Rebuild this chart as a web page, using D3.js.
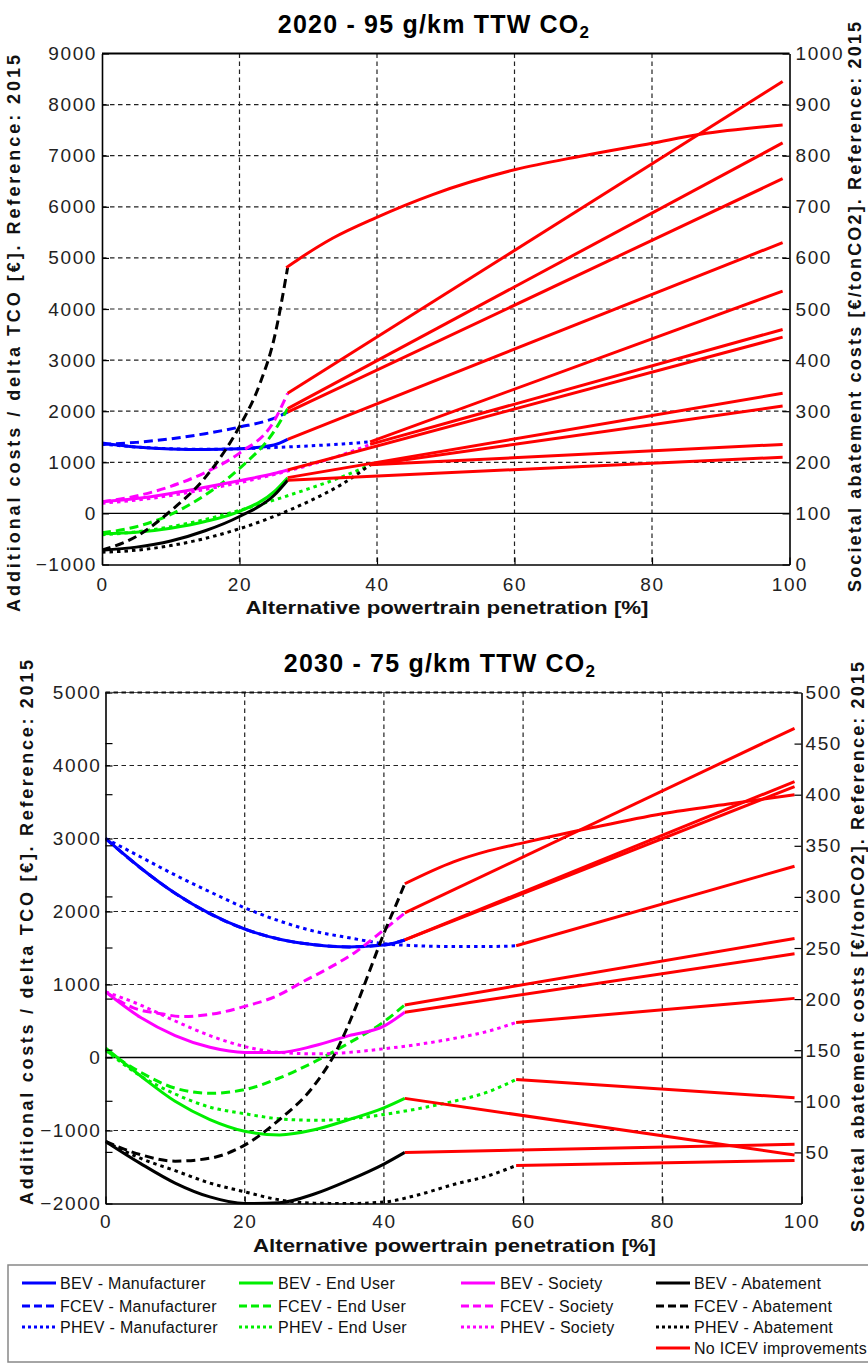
<!DOCTYPE html>
<html><head><meta charset="utf-8">
<script src="https://cdn.jsdelivr.net/npm/d3@7/dist/d3.min.js"></script>
<style>
body{margin:0;background:#fff;}
svg text{font-family:Arial,"Liberation Sans",sans-serif;}
</style></head><body>
<svg id="c" width="868" height="1364"></svg>
<script>
// ---------------- DATA ----------------
const xTicks = [0, 20, 40, 60, 80, 100];
const xGrid = [20, 40, 60, 80];

// Chart A: 2020
const titleA = "2020 - 95 g/km TTW CO";
const leftTicksA = [-1000, 0, 1000, 2000, 3000, 4000, 5000, 6000, 7000, 8000, 9000];
const rightTicksA = [0, 100, 200, 300, 400, 500, 600, 700, 800, 900, 1000];

const A_bevMfr  = [[0,1380],[5,1300],[10,1260],[15,1250],[20,1265],[25,1340],[27,1450]];
const A_fcevMfr = [[0,1350],[5,1390],[10,1460],[15,1560],[20,1690],[25,1860],[27,1980]];
const A_phevMfr = [[0,1360],[5,1300],[10,1265],[15,1255],[20,1265],[25,1290],[30,1320],[35,1360],[39,1400]];
const A_bevEU   = [[0,-400],[5,-370],[10,-290],[15,-160],[20,40],[25,420],[27,700]];
const A_fcevEU  = [[0,-380],[5,-260],[10,-20],[15,360],[20,880],[25,1600],[27,2050]];
const A_phevEU  = [[0,-420],[5,-360],[10,-260],[15,-120],[20,60],[25,260],[30,480],[35,720],[39,950]];
const A_bevSoc  = [[0,230],[5,290],[10,390],[15,510],[20,640],[25,780],[27,850]];
const A_fcevSoc = [[0,230],[5,340],[10,530],[15,800],[20,1180],[25,1800],[27,2350]];
const A_phevSoc = [[0,200],[5,260],[10,350],[15,470],[20,600],[25,760],[30,940],[35,1150],[39,1350]];
const A_bevAb   = [[0,-720],[5,-660],[10,-540],[15,-340],[20,-60],[25,350],[27,650]];
const A_fcevAb  = [[0,-720],[5,-450],[10,50],[15,700],[18,1250],[20,1700],[23,2550],[25,3400],[27,4810]];
const A_phevAb  = [[0,-760],[5,-720],[10,-630],[15,-490],[20,-300],[25,-60],[30,230],[35,580],[39,950]];

const A_red = [
  [[26.8,4810],[28.7,4985],[33.6,5390],[39.8,5785],[48.1,6240],[60,6725],[70,7000],[80,7245],[87,7420],[99,7600]],
  [[27,2350],[99,8450]],
  [[27,2050],[99,7250]],
  [[27,1980],[99,6550]],
  [[27,1450],[99,5300]],
  [[39,1400],[99,4350]],
  [[39,1350],[99,3600]],
  [[27,850],[99,3450]],
  [[27,700],[99,2350]],
  [[39,950],[99,2100]],
  [[39,950],[99,1350]],
  [[27,650],[99,1100]]
];

// Chart B: 2030
const titleB = "2030 - 75 g/km TTW CO";
const leftTicksB = [-2000, -1000, 0, 1000, 2000, 3000, 4000, 5000];
const rightTicksB = [50, 100, 150, 200, 250, 300, 350, 400, 450, 500];

const B_bevMfr  = [[0,3000],[5,2600],[10,2250],[15,1970],[20,1760],[25,1620],[30,1545],[35,1515],[40,1540],[43,1610]];
const B_fcevMfr = [[0,3000],[5,2600],[10,2250],[15,1970],[20,1760],[25,1620],[30,1545],[35,1515],[40,1540],[43,1610]];
const B_phevMfr = [[0,3000],[5,2750],[10,2500],[15,2270],[20,2050],[25,1870],[30,1730],[35,1640],[40,1560],[45,1530],[50,1520],[55,1520],[59,1530]];
const B_bevEU   = [[0,130],[5,-250],[10,-600],[15,-850],[20,-1010],[25,-1060],[30,-990],[35,-850],[40,-690],[43,-560]];
const B_fcevEU  = [[0,100],[5,-200],[10,-420],[15,-490],[20,-440],[25,-280],[30,-60],[35,200],[40,490],[43,720]];
const B_phevEU  = [[0,100],[5,-250],[10,-500],[15,-680],[20,-770],[25,-840],[30,-860],[35,-840],[40,-780],[45,-700],[50,-600],[55,-470],[59,-300]];
const B_bevSoc  = [[0,900],[5,550],[10,300],[15,140],[20,70],[25,70],[30,160],[35,300],[40,430],[43,620]];
const B_fcevSoc = [[0,900],[4,680],[8,600],[11,560],[15,590],[20,700],[25,860],[28,1020],[32,1220],[36,1450],[40,1750],[43,1980]];
const B_phevSoc = [[0,900],[5,720],[10,500],[15,300],[20,150],[25,70],[30,50],[35,70],[40,120],[45,180],[50,260],[55,360],[59,480]];
const B_bevAb   = [[0,-1150],[5,-1450],[10,-1720],[15,-1910],[20,-2000],[25,-1990],[30,-1870],[35,-1680],[40,-1460],[43,-1300]];
const B_fcevAb  = [[0,-1150],[5,-1330],[10,-1420],[15,-1380],[20,-1200],[25,-850],[30,-380],[33,60],[36,700],[38,1200],[40,1700],[42,2150],[43,2380]];
const B_phevAb  = [[0,-1150],[5,-1380],[10,-1550],[15,-1720],[20,-1840],[25,-1950],[30,-1995],[35,-2000],[40,-1980],[45,-1880],[50,-1740],[55,-1620],[59,-1480]];

const B_red = [
  [[43,2380],[50,2680],[55,2830],[60,2940],[70,3150],[80,3340],[90,3480],[99,3600]],
  [[43,1980],[99,4510]],
  [[43,1610],[99,3710]],
  [[43,1610],[99,3780]],
  [[59,1530],[99,2620]],
  [[43,720],[99,1630]],
  [[43,620],[99,1420]],
  [[59,480],[99,810]],
  [[43,-560],[99,-1336]],
  [[59,-300],[99,-550]],
  [[43,-1300],[99,-1190]],
  [[59,-1480],[99,-1410]]
];

const legendNames = [
  "BEV - Manufacturer","FCEV - Manufacturer","PHEV - Manufacturer",
  "BEV - End User","FCEV - End User","PHEV - End User",
  "BEV - Society","FCEV - Society","PHEV - Society",
  "BEV - Abatement","FCEV - Abatement","PHEV - Abatement",
  "No ICEV improvements"
];
const leftLabel = "Additional costs / delta TCO [€]. Reference: 2015";
const rightLabel = "Societal abatement costs [€/tonCO2]. Reference: 2015";
const xLabel = "Alternative powertrain penetration [%]";

// ---------------- STYLE ----------------
const colors = ["#0000ff","#0000ff","#0000ff","#00ee00","#00ee00","#00ee00","#ff00ff","#ff00ff","#ff00ff","#000000","#000000","#000000","#ff0000"];
const dashes = [null,"9,5","3.5,4",null,"9,5","3.5,4",null,"9,5","3.5,4",null,"9,5","3.5,4",null];

const svg = d3.select("#c");
const defs = svg.append("defs");

function chart(o){
  const g = svg.append("g");
  const x = d3.scaleLinear().domain([0,100]).range([o.x0,o.x1]);
  const y = d3.scaleLinear().domain(o.yDom).range([o.yBot,o.yTop]);
  const yr = d3.scaleLinear().domain(o.rDom).range([o.yBot,o.yTop]);
  defs.append("clipPath").attr("id","clip"+o.id).append("rect")
    .attr("x",o.x0).attr("y",o.yTop-2).attr("width",o.x1-o.x0).attr("height",o.yBot-o.yTop+3);

  // grid
  g.append("g").selectAll("line").data(xGrid).join("line")
    .attr("x1",d=>x(d)).attr("x2",d=>x(d)).attr("y1",o.yTop).attr("y2",o.yBot)
    .attr("stroke","#222").attr("stroke-width",1.2).attr("stroke-dasharray","4.5,3.5");
  g.append("g").selectAll("line").data(o.leftTicks.filter(d=>d!==0 && d!==o.yDom[0])).join("line")
    .attr("x1",o.x0).attr("x2",o.x1).attr("y1",d=>y(d)).attr("y2",d=>y(d))
    .attr("stroke","#222").attr("stroke-width",1.2).attr("stroke-dasharray","4.5,3.5");
  // zero line
  g.append("line").attr("x1",o.x0).attr("x2",o.x1).attr("y1",y(0)).attr("y2",y(0))
    .attr("stroke","#000").attr("stroke-width",1.3);

  const line = d3.line().x(d=>x(d[0])).y(d=>y(d[1])).curve(d3.curveMonotoneX);
  const pg = g.append("g").attr("clip-path","url(#clip"+o.id+")");
  o.series.forEach((s,i)=>{
    pg.append("path").attr("d",line(s)).attr("fill","none")
      .attr("stroke",colors[i]).attr("stroke-width",3)
      .attr("stroke-dasharray",dashes[i]);
  });
  o.red.forEach(s=>{
    pg.append("path").attr("d",line(s)).attr("fill","none")
      .attr("stroke","#ff0000").attr("stroke-width",3);
  });

  // axes
  const styleTicks = sel => {
    sel.selectAll(".tick text").attr("font-size",19).attr("fill","#222")
      .attr("font-family","Arial, 'Liberation Sans', sans-serif").style("letter-spacing","1.6px");
    sel.selectAll(".tick line").attr("stroke","#000").attr("stroke-width",1.2);
    sel.select(".domain").attr("stroke","#000").attr("stroke-width",1.6);
  };
  g.append("g").attr("transform",`translate(${o.x0},0)`)
    .call(d3.axisLeft(y).tickValues(o.leftTicks).tickSize(-7).tickSizeOuter(0).tickPadding(o.padL).tickFormat(d3.format("d")))
    .call(styleTicks);
  g.append("g").attr("transform",`translate(${o.x1},0)`)
    .call(d3.axisRight(yr).tickValues(o.rightTicks).tickSize(-7).tickSizeOuter(0).tickPadding(o.padR).tickFormat(d3.format("d")))
    .call(styleTicks);
  g.append("g").attr("transform",`translate(0,${o.yBot})`)
    .call(d3.axisBottom(x).tickValues(xTicks).tickSize(-7).tickSizeOuter(0).tickPadding(o.padB).tickFormat(d3.format("d")))
    .call(styleTicks);
  // mirrored ticks
  if(o.mirror){
    g.append("g").selectAll("line").data(o.rightTicks).join("line")
      .attr("x1",o.x0).attr("x2",o.x0+7).attr("y1",d=>yr(d)).attr("y2",d=>yr(d))
      .attr("stroke","#000").attr("stroke-width",1.2);
  }
  // top border
  g.append("line").attr("x1",o.x0).attr("x2",o.x1).attr("y1",o.yTop).attr("y2",o.yTop)
    .attr("stroke",o.topSolid?"#000":"#555").attr("stroke-width",o.topSolid?1.8:1);
  if(!o.topSolid){
    g.append("line").attr("x1",o.x0).attr("x2",o.x1).attr("y1",o.yTop).attr("y2",o.yTop)
      .attr("stroke","#111").attr("stroke-width",1.8).attr("stroke-dasharray","4.5,3.5");
  }

  // title
  const t = g.append("text").attr("x",o.titleX).attr("y",o.titleY).attr("text-anchor","middle")
    .attr("font-size",25).attr("font-weight","bold").style("letter-spacing","1.2px");
  t.append("tspan").text(o.title);
  t.append("tspan").attr("font-size",17).attr("dy",5).text("2");

  // axis labels
  g.append("text").attr("transform",`translate(${o.lX},${o.lStart}) rotate(-90)`)
    .attr("font-size",18).attr("font-weight","bold").attr("fill","#111")
    .attr("textLength",o.lLen).attr("lengthAdjust","spacing").text(leftLabel);
  g.append("text").attr("transform",`translate(${o.rX},${o.rStart}) rotate(-90)`)
    .attr("font-size",18).attr("font-weight","bold").attr("fill","#111")
    .attr("textLength",o.rLen).attr("lengthAdjust","spacing").text(rightLabel);
  g.append("text").attr("x",o.xlX).attr("y",o.xlY).attr("text-anchor","middle")
    .attr("font-size",19).attr("font-weight","bold").attr("fill","#111")
    .attr("textLength",403).attr("lengthAdjust","spacingAndGlyphs").text(xLabel);
}

chart({id:"A", x0:102, x1:789.5, yTop:53.5, yBot:564.5, yDom:[-1000,9000], rDom:[0,1000],
  leftTicks:leftTicksA, rightTicks:rightTicksA, padL:5, padR:6, padB:13, mirror:false, topSolid:true,
  series:[A_bevMfr,A_fcevMfr,A_phevMfr,A_bevEU,A_fcevEU,A_phevEU,A_bevSoc,A_fcevSoc,A_phevSoc,A_bevAb,A_fcevAb,A_phevAb],
  red:A_red, title:titleA, titleX:434, titleY:33,
  lX:20, lStart:612, lLen:557, rX:861, rStart:592, rLen:570, xlX:447, xlY:614});

chart({id:"B", x0:105.5, x1:801.5, yTop:692.5, yBot:1203.5, yDom:[-2000,5000], rDom:[0,500],
  leftTicks:leftTicksB, rightTicks:rightTicksB, padL:4, padR:4, padB:11, mirror:true, topSolid:false,
  series:[B_bevMfr,B_fcevMfr,B_phevMfr,B_bevEU,B_fcevEU,B_phevEU,B_bevSoc,B_fcevSoc,B_phevSoc,B_bevAb,B_fcevAb,B_phevAb],
  red:B_red, title:titleB, titleX:440, titleY:672,
  lX:32.5, lStart:1205, lLen:545, rX:864, rStart:1232, rLen:570, xlX:454.5, xlY:1252});

// ---------------- LEGEND ----------------
const lg = svg.append("g");
lg.append("rect").attr("x",8).attr("y",1265).attr("width",900).attr("height",97)
  .attr("fill","#fff").attr("stroke","#888").attr("stroke-width",1.5);
const colLineX = [22, 239, 461, 656];
const colTextX = [60, 278, 500, 694];
const rowY = [1283, 1306, 1327, 1348];
legendNames.forEach((n,i)=>{
  const col = i<12 ? Math.floor(i/3) : 3;
  const row = i<12 ? i%3 : 3;
  const yy = rowY[row];
  lg.append("line").attr("x1",colLineX[col]).attr("x2",colLineX[col]+34).attr("y1",yy).attr("y2",yy)
    .attr("stroke",colors[i]).attr("stroke-width",3)
    .attr("stroke-dasharray", dashes[i] ? (dashes[i]==="9,5" ? "8,4" : "3,3") : null);
  lg.append("text").attr("x",colTextX[col]).attr("y",yy).attr("dy","0.35em")
    .attr("font-size",16).attr("fill","#111").style("letter-spacing","0.3px").text(n);
});
</script>
</body></html>
